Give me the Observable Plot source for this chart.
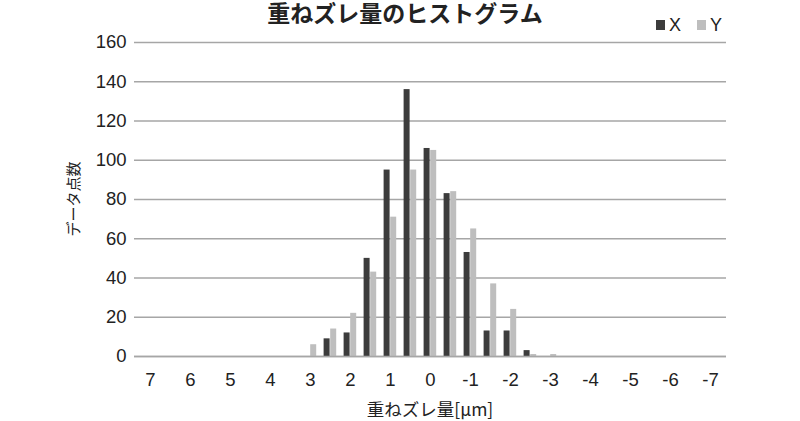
<!DOCTYPE html>
<html>
<head>
<meta charset="utf-8">
<script src="https://cdn.jsdelivr.net/npm/d3@7"></script>
<script src="https://cdn.jsdelivr.net/npm/@observablehq/plot@0.6"></script>
<style>
  body { margin: 0; background: #fff; overflow: hidden; }
  #wrap { position: relative; width: 800px; height: 421px; font-family: "Liberation Sans", "Noto Sans CJK JP", sans-serif; color: #222; }
  #title { position: absolute; left: 10px; width: 790px; top: 1px; text-align: center; font-size: 23px; font-weight: bold; font-family: "Liberation Sans", "Noto Sans CJK JP", sans-serif; line-height: 26px; }
  #legend { position: absolute; top: 15px; left: 656px; font-size: 18px; display: flex; align-items: center; gap: 4px; line-height: 20px; }
  #legend .sw { width: 9px; height: 10px; display: inline-block; }
  #ylab { position: absolute; left: 72px; top: 199px; transform: translate(-50%, -50%) rotate(-90deg); font-size: 15px; font-family: "Noto Sans CJK JP", sans-serif; white-space: nowrap; }
  #xlab { position: absolute; left: 430px; top: 408px; transform: translate(-50%, -50%); font-size: 17.5px; font-family: "Noto Sans CJK JP", sans-serif; white-space: nowrap; }
  #chart { position: absolute; left: 0; top: 0; }
</style>
</head>
<body>
<div id="wrap">
  <div id="chart"></div>
  <div id="title">重ねズレ量のヒストグラム</div>
  <div id="legend"><span class="sw" style="background:#3c3c3c"></span><span>X</span><span style="width:8px"></span><span class="sw" style="background:#bebebe"></span><span>Y</span></div>
  <div id="ylab">データ点数</div>
  <div id="xlab">重ねズレ量[μm]</div>
</div>
<script>
const categories = ["7","6.5","6","5.5","5","4.5","4","3.5","3","2.5","2","1.5","1","0.5","0","-0.5","-1","-1.5","-2","-2.5","-3","-3.5","-4","-4.5","-5","-5.5","-6","-6.5","-7"];
const xCounts = [0,0,0,0,0,0,0,0,0,9,12,50,95,136,106,83,53,13,13,3,0,0,0,0,0,0,0,0,0];
const yCounts = [0,0,0,0,0,0,0,0,6,14,22,43,71,95,105,84,65,37,24,1,1,0,0,0,0,0,0,0,0];
const tickLabels = ["7","6","5","4","3","2","1","0","-1","-2","-3","-4","-5","-6","-7"];
const yTicks = [0,20,40,60,80,100,120,140,160];

const xData = categories.map((c, i) => ({cat: c, value: xCounts[i]}));
const yData = categories.map((c, i) => ({cat: c, value: yCounts[i]}));

const plot = Plot.plot({
  width: 800,
  height: 421,
  marginLeft: 134,
  marginRight: 74,
  marginTop: 42,
  marginBottom: 65,
  style: {fontFamily: "'Liberation Sans', sans-serif", fontSize: "18px", color: "#222", background: "transparent"},
  x: {type: "band", domain: categories, padding: 0},
  y: {domain: [0, 160]},
  marks: [
    Plot.gridY(yTicks, {stroke: "#a6a6a6", strokeOpacity: 1, strokeWidth: 1.6}),
    Plot.barY(xData, {x: "cat", y: "value", fill: "#3c3c3c", insetLeft: 3.6, insetRight: 10.4}),
    Plot.barY(yData, {x: "cat", y: "value", fill: "#bebebe", insetLeft: 10.2, insetRight: 3.8}),
    Plot.axisY(yTicks, {tickSize: 0, tickPadding: 8, label: null, fontSize: 18.5}),
    Plot.axisX(tickLabels, {tickSize: 0, tickPadding: 16, label: null, fontSize: 18.5}),
    Plot.ruleY([0], {stroke: "#a6a6a6", strokeWidth: 1.6})
  ]
});
document.getElementById("chart").appendChild(plot);
</script>
</body>
</html>
